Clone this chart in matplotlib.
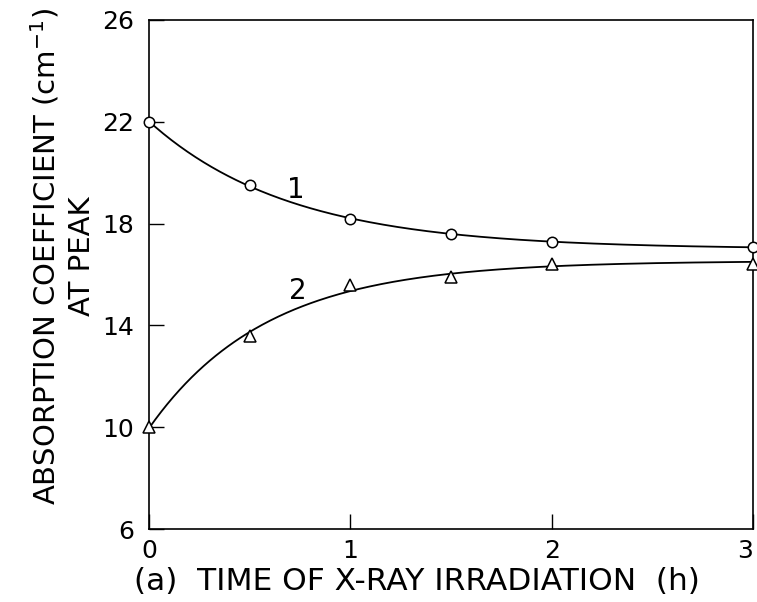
import numpy as np
import matplotlib
matplotlib.use("Agg")
import matplotlib.pyplot as plt

# irradiation time (h) and absorption at peak (cm^-1)
time_h = [0, 0.5, 1, 1.5, 2, 3]
band1 = [22.0, 19.5, 18.17, 17.58, 17.29, 17.09]
band2 = [10.0, 13.6, 15.57, 15.92, 16.4, 16.43]

x_ticks = [0, 1, 2, 3]
y_ticks = [6, 10, 14, 18, 22, 26]


def fit_saturation(t, y):
    # y = a + b*exp(-k t), scan k and solve a, b by least squares
    t = np.asarray(t, float)
    y = np.asarray(y, float)
    best = None
    for k in np.linspace(0.3, 5, 500):
        A = np.column_stack([np.ones_like(t), np.exp(-k * t)])
        coef, *_ = np.linalg.lstsq(A, y, rcond=None)
        err = np.sum((A @ coef - y) ** 2)
        if best is None or err < best[0]:
            best = (err, k, coef)
    _, k, (a, b) = best
    return lambda tt: a + b * np.exp(-k * tt)


plt.rcParams["font.family"] = ["DejaVu Sans"]
fig = plt.figure(figsize=(7.57, 6.02), dpi=100)
ax = fig.add_axes([0.197, 0.121, 0.798, 0.846])

tt = np.linspace(0, 3, 300)
for ys, mk in [(band1, "o"), (band2, "^")]:
    f = fit_saturation(time_h, ys)
    ax.plot(tt, f(tt), color="black", lw=1.3, zorder=2)
    ax.plot(time_h, ys, mk, ms=7.5 if mk == "o" else 8, mfc="white", mec="black",
            mew=1.1, ls="none", zorder=3, clip_on=False)

ax.text(0.73, 19.3, "1", fontsize=20, ha="center", va="center")
ax.text(0.74, 15.37, "2", fontsize=20, ha="center", va="center")

ax.set_xlim(0, 3)
ax.set_ylim(6, 26)
ax.set_xticks(x_ticks)
ax.set_yticks(y_ticks)
ax.tick_params(direction="in", length=11, width=1, labelsize=18)
ax.tick_params(axis="y", pad=11)
ax.tick_params(axis="x", pad=7)
ax.get_xticklabels()[-1].set_horizontalalignment("right")
for s in ax.spines.values():
    s.set_linewidth(1.2)

ax.set_xlabel("(a)  TIME OF X-RAY IRRADIATION  (h)", fontsize=22.5)
ax.xaxis.set_label_coords(0.444, -0.075)
ax.set_ylabel("ABSORPTION COEFFICIENT (cm$^{-1}$)\nAT PEAK", fontsize=21,
              linespacing=1.3)
ax.yaxis.set_label_coords(-0.088, 0.536)

fig.savefig("out.png", dpi=100)
